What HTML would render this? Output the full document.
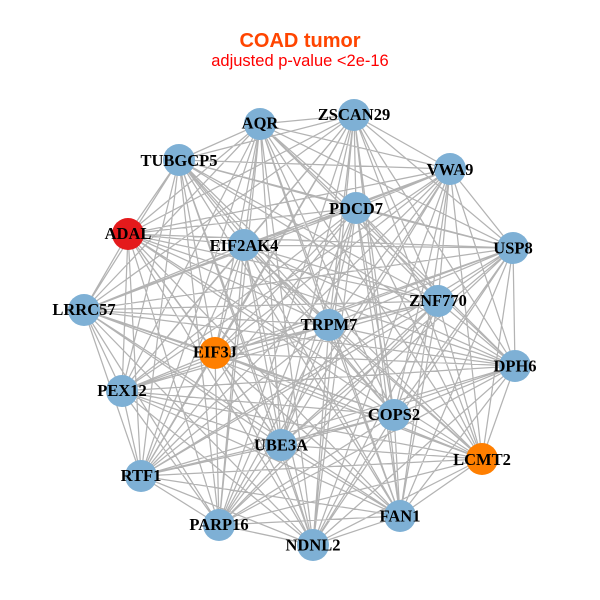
<!DOCTYPE html>
<html><head><meta charset="utf-8"><style>
html,body{margin:0;padding:0;background:#fff}
svg{display:block}
.l text{font:bold 16.5px "Liberation Serif",serif;text-anchor:middle;fill:#000}
</style></head><body>
<svg width="600" height="600" viewBox="0 0 600 600" xmlns="http://www.w3.org/2000/svg">
<rect width="600" height="600" fill="#fff"/>
<path fill="none" stroke="#b3b3b3" stroke-width="1.25" d="
M260 124L354 115M260 124L450 169M260 124L513 248M260 124L515 366M260 124L482 459M260 124L400 516M260 124L313 545M260 124L219 525M260 124L141 476M260 124L122 391M260 124L84 310M260 124L128 234M260 124L179 160M260 124L244 245M260 124L356 208M260 124L438 301M260 124L394 415M260 124L281 445M260 124L215 353M260 124L329 325
M354 115L450 169M354 115L513 248M354 115L515 366M354 115L482 459M354 115L400 516M354 115L313 545M354 115L219 525M354 115L141 476M354 115L122 391M354 115L84 310M354 115L128 234M354 115L179 160M354 115L244 245M354 115L356 208M354 115L438 301M354 115L394 415M354 115L281 445M354 115L215 353M354 115L329 325
M450 169L513 248M450 169L515 366M450 169L482 459M450 169L400 516M450 169L313 545M450 169L219 525M450 169L141 476M450 169L122 391M450 169L84 310M450 169L128 234M450 169L179 160M450 169L244 245M450 169L356 208M450 169L438 301M450 169L394 415M450 169L281 445M450 169L215 353M450 169L329 325
M513 248L515 366M513 248L482 459M513 248L400 516M513 248L313 545M513 248L219 525M513 248L141 476M513 248L122 391M513 248L84 310M513 248L128 234M513 248L179 160M513 248L244 245M513 248L356 208M513 248L438 301M513 248L394 415M513 248L281 445M513 248L215 353M513 248L329 325
M515 366L482 459M515 366L400 516M515 366L313 545M515 366L219 525M515 366L141 476M515 366L122 391M515 366L84 310M515 366L128 234M515 366L179 160M515 366L244 245M515 366L356 208M515 366L438 301M515 366L394 415M515 366L281 445M515 366L215 353M515 366L329 325
M482 459L400 516M482 459L313 545M482 459L219 525M482 459L141 476M482 459L122 391M482 459L84 310M482 459L128 234M482 459L179 160M482 459L244 245M482 459L356 208M482 459L438 301M482 459L394 415M482 459L281 445M482 459L215 353M482 459L329 325
M400 516L313 545M400 516L219 525M400 516L141 476M400 516L122 391M400 516L84 310M400 516L128 234M400 516L179 160M400 516L244 245M400 516L356 208M400 516L438 301M400 516L394 415M400 516L281 445M400 516L215 353M400 516L329 325
M313 545L219 525M313 545L141 476M313 545L122 391M313 545L84 310M313 545L128 234M313 545L179 160M313 545L244 245M313 545L356 208M313 545L438 301M313 545L394 415M313 545L281 445M313 545L215 353M313 545L329 325
M219 525L141 476M219 525L122 391M219 525L84 310M219 525L128 234M219 525L179 160M219 525L244 245M219 525L356 208M219 525L438 301M219 525L394 415M219 525L281 445M219 525L215 353M219 525L329 325
M141 476L122 391M141 476L84 310M141 476L128 234M141 476L179 160M141 476L244 245M141 476L356 208M141 476L438 301M141 476L394 415M141 476L281 445M141 476L215 353M141 476L329 325
M122 391L84 310M122 391L128 234M122 391L179 160M122 391L244 245M122 391L356 208M122 391L438 301M122 391L394 415M122 391L281 445M122 391L215 353M122 391L329 325
M84 310L128 234M84 310L179 160M84 310L244 245M84 310L356 208M84 310L438 301M84 310L394 415M84 310L281 445M84 310L215 353M84 310L329 325
M128 234L179 160M128 234L244 245M128 234L356 208M128 234L438 301M128 234L394 415M128 234L281 445M128 234L215 353M128 234L329 325
M179 160L244 245M179 160L356 208M179 160L438 301M179 160L394 415M179 160L281 445M179 160L215 353M179 160L329 325
M244 245L356 208M244 245L438 301M244 245L394 415M244 245L281 445M244 245L215 353M244 245L329 325
M356 208L438 301M356 208L394 415M356 208L281 445M356 208L215 353M356 208L329 325
M438 301L394 415M438 301L281 445M438 301L215 353M438 301L329 325
M394 415L281 445M394 415L215 353M394 415L329 325
M281 445L215 353M281 445L329 325
M215 353L329 325"/>
<g fill="#7eb0d5">
<circle cx="260" cy="124" r="16"/><circle cx="354" cy="115" r="16"/><circle cx="450" cy="169" r="16"/><circle cx="513" cy="248" r="16"/><circle cx="515" cy="366" r="16"/><circle cx="400" cy="516" r="16"/><circle cx="313" cy="545" r="16"/><circle cx="219" cy="525" r="16"/><circle cx="141" cy="476" r="16"/><circle cx="122" cy="391" r="16"/><circle cx="84" cy="310" r="16"/><circle cx="179" cy="160" r="16"/><circle cx="244" cy="245" r="16"/><circle cx="356" cy="208" r="16"/><circle cx="438" cy="301" r="16"/><circle cx="394" cy="415" r="16"/><circle cx="281" cy="445" r="16"/><circle cx="329" cy="325" r="16"/>
</g>
<circle cx="128" cy="234" r="16" fill="#e41a1c"/>
<circle cx="482" cy="459" r="16" fill="#ff7f00"/>
<circle cx="215" cy="353" r="16" fill="#ff7f00"/>
<g class="l">
<text x="260" y="128.5">AQR</text>
<text x="354" y="120">ZSCAN29</text>
<text x="450" y="175">VWA9</text>
<text x="513" y="253.5">USP8</text>
<text x="515" y="371.5">DPH6</text>
<text x="482" y="465">LCMT2</text>
<text x="400" y="521.5">FAN1</text>
<text x="313" y="550.5">NDNL2</text>
<text x="219" y="530">PARP16</text>
<text x="141" y="481">RTF1</text>
<text x="122" y="396">PEX12</text>
<text x="84" y="315">LRRC57</text>
<text x="128" y="239">ADAL</text>
<text x="179" y="166">TUBGCP5</text>
<text x="244" y="251">EIF2AK4</text>
<text x="356" y="214">PDCD7</text>
<text x="438" y="306">ZNF770</text>
<text x="394" y="420">COPS2</text>
<text x="281" y="450.5">UBE3A</text>
<text x="215" y="357.5">EIF3J</text>
<text x="329" y="330">TRPM7</text>
</g>
<text x="300" y="47" text-anchor="middle" font-family="Liberation Sans, sans-serif" font-weight="bold" font-size="20" fill="#ff4500">COAD tumor</text>
<text x="300" y="66" text-anchor="middle" font-family="Liberation Sans, sans-serif" font-size="16.5" fill="#ff0000">adjusted p-value &lt;2e-16</text>
</svg>
</body></html>
